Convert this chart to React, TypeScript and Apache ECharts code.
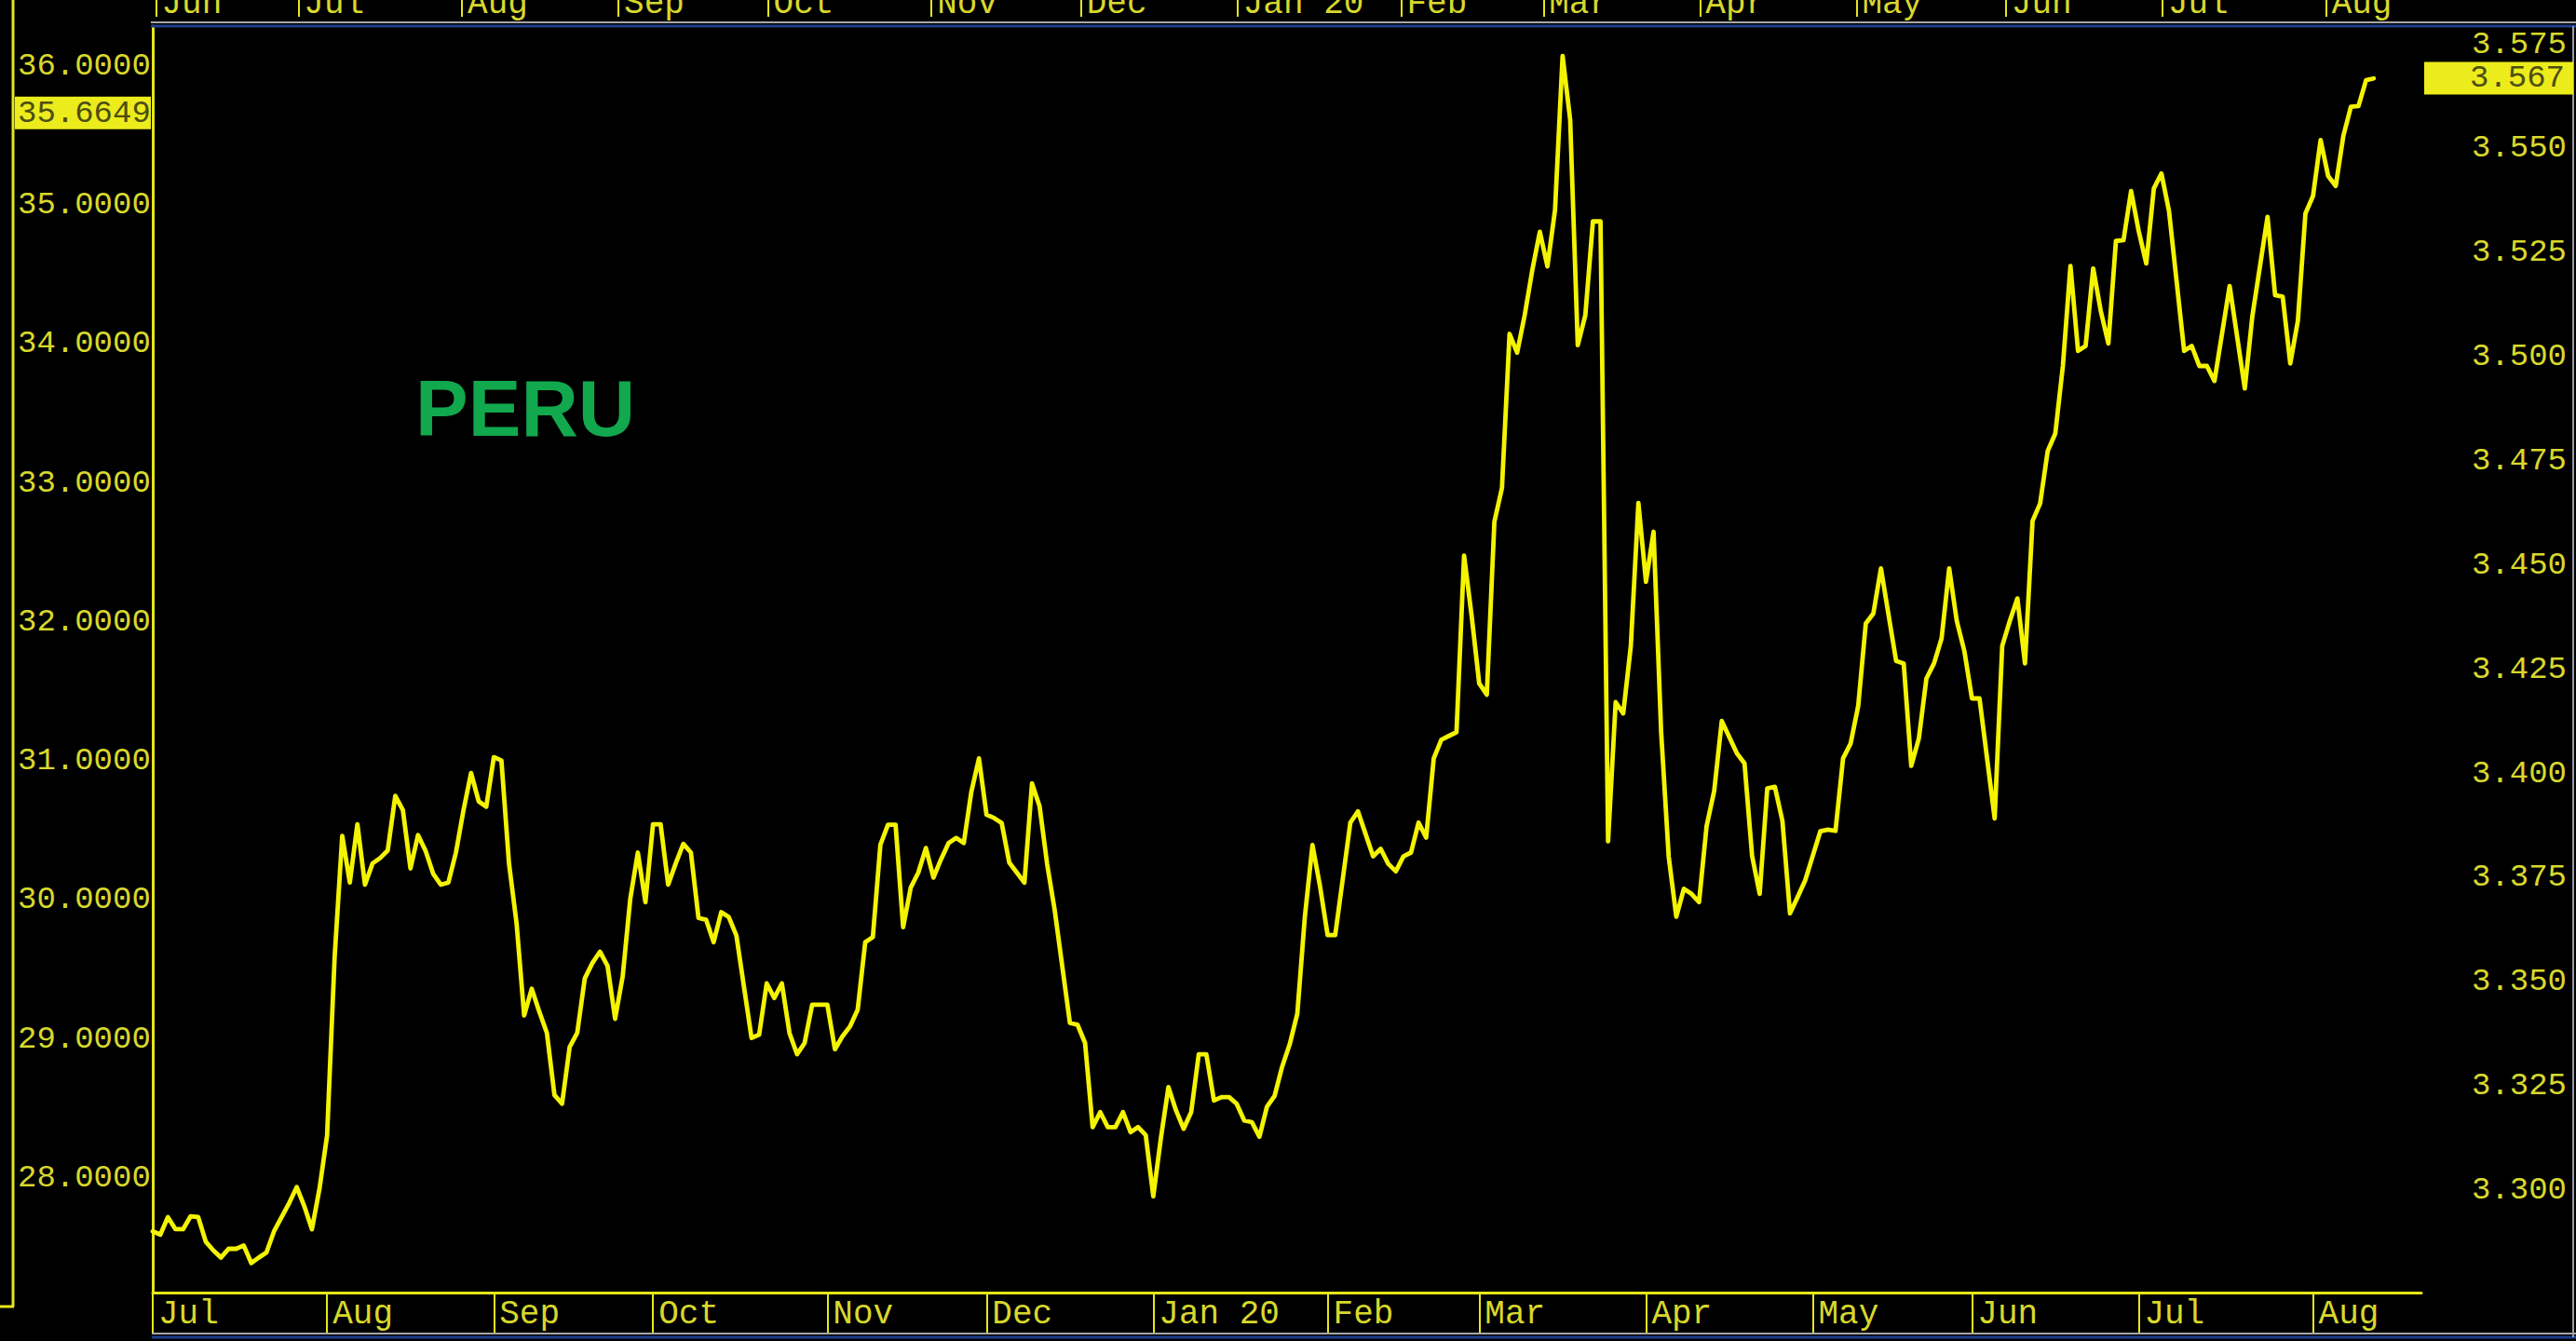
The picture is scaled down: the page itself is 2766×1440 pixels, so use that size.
import React, { useEffect, useRef } from "react";
import * as echarts from "echarts";

// USD/PEN daily close, keyed by business-day index counted from 1 Jul 2019
const jul19 = [[0, 3.2901], [1, 3.2893], [2, 3.2935], [3, 3.2906], [4, 3.2906], [5, 3.2937], [6, 3.2935], [7, 3.2876], [8, 3.2855], [9, 3.2838], [10, 3.2859], [11, 3.2859], [12, 3.2867], [13, 3.2825], [14, 3.2838], [15, 3.285], [16, 3.2901], [18, 3.2969], [19, 3.3007], [20, 3.2961], [21, 3.2906], [22, 3.3003]];
const aug19 = [[23, 3.3131], [24, 3.356], [25, 3.385], [26, 3.3738], [27, 3.3878], [28, 3.3733], [29, 3.3784], [30, 3.3797], [31, 3.3815], [32, 3.3946], [33, 3.3912], [34, 3.3772], [35, 3.3852], [36, 3.3814], [37, 3.3759], [38, 3.3733], [39, 3.3738], [40, 3.381], [41, 3.3912], [42, 3.4001], [43, 3.3933], [44, 3.392]];
const sep19 = [[45, 3.4039], [46, 3.4031], [47, 3.3784], [48, 3.364], [49, 3.3419], [50, 3.3483], [51, 3.3428], [52, 3.3377], [53, 3.3228], [54, 3.3207], [55, 3.3343], [56, 3.3377], [57, 3.3508], [58, 3.3545], [59, 3.3572], [60, 3.3538], [61, 3.3411], [62, 3.3513], [63, 3.3699], [64, 3.381], [65, 3.3691]];
const oct19 = [[66, 3.3878], [67, 3.3878], [68, 3.3733], [69, 3.3784], [70, 3.3831], [71, 3.381], [72, 3.3653], [73, 3.3649], [74, 3.3595], [75, 3.3667], [76, 3.3655], [77, 3.3611], [78, 3.3488], [79, 3.3365], [80, 3.3373], [81, 3.3496], [82, 3.3461], [83, 3.3496], [84, 3.3377], [85, 3.3326], [86, 3.3353], [87, 3.3445]];
const nov19 = [[89, 3.3445], [90, 3.3338], [91, 3.3369], [92, 3.3393], [93, 3.3433], [94, 3.3595], [95, 3.3607], [96, 3.3829], [97, 3.3877], [98, 3.3877], [99, 3.3631], [100, 3.3726], [101, 3.3762], [102, 3.3821], [103, 3.375], [104, 3.3794], [105, 3.3833], [106, 3.3845], [107, 3.3833], [108, 3.3956], [109, 3.4036]];
const dec19 = [[110, 3.3901], [111, 3.3893], [112, 3.3881], [113, 3.3786], [114, 3.3762], [115, 3.3738], [116, 3.3976], [117, 3.3921], [118, 3.3782], [119, 3.3671], [120, 3.3536], [121, 3.3401], [122, 3.3397], [123, 3.3353], [124, 3.3151], [125, 3.3187], [126, 3.3151], [127, 3.3151], [128, 3.3187], [129, 3.3139], [130, 3.3151], [131, 3.3132]];
const jan20 = [[132, 3.2985], [133, 3.3124], [134, 3.3247], [135, 3.3191], [136, 3.3147], [137, 3.3187], [138, 3.3326], [139, 3.3326], [140, 3.3215], [141, 3.3223], [142, 3.3223], [143, 3.3207], [144, 3.3167], [145, 3.3163], [146, 3.3128], [147, 3.32], [148, 3.3226], [149, 3.3296], [150, 3.335], [151, 3.3423], [152, 3.3657], [153, 3.3828], [154, 3.3729]];
const feb20 = [[155, 3.3612], [156, 3.3612], [157, 3.3747], [158, 3.3882], [159, 3.3909], [160, 3.3855], [161, 3.3801], [162, 3.3819], [163, 3.3783], [164, 3.3765], [165, 3.3801], [166, 3.381], [167, 3.3882], [168, 3.3846], [169, 3.4036], [170, 3.4081], [171, 3.409], [172, 3.4099], [173, 3.4523], [174, 3.4378]];
const mar20 = [[175, 3.4216], [176, 3.4189], [177, 3.4604], [178, 3.4685], [179, 3.5055], [180, 3.501], [181, 3.51], [182, 3.5208], [183, 3.53], [184, 3.5217], [185, 3.5352], [186, 3.5722], [187, 3.5569], [188, 3.5028], [189, 3.51], [190, 3.5325], [191, 3.5325], [192, 3.3837], [193, 3.4171], [194, 3.4144], [195, 3.4306], [196, 3.4649]];
const apr20 = [[197, 3.446], [198, 3.458], [199, 3.41], [200, 3.38], [201, 3.3656], [202, 3.3723], [203, 3.3711], [204, 3.3691], [205, 3.3874], [206, 3.3958], [207, 3.4126], [209, 3.4048], [210, 3.4024], [211, 3.3802], [212, 3.3711], [213, 3.3964], [214, 3.3968], [215, 3.3886], [216, 3.3664], [217, 3.3703], [218, 3.3743]];
const may20 = [[220, 3.3861], [221, 3.3865], [222, 3.3862], [223, 3.4036], [224, 3.4072], [225, 3.4162], [226, 3.436], [227, 3.4384], [228, 3.4492], [230, 3.427], [231, 3.4264], [232, 3.4018], [233, 3.4084], [234, 3.4228], [235, 3.4264], [236, 3.4324], [237, 3.4492], [238, 3.4366], [239, 3.4294]];
const jun20 = [[240, 3.418], [241, 3.418], [243, 3.3892], [244, 3.4306], [245, 3.4366], [246, 3.442], [247, 3.4264], [248, 3.4606], [249, 3.4648], [250, 3.4774], [251, 3.4816], [252, 3.4978], [253, 3.5218], [254, 3.5014], [255, 3.5026], [256, 3.5212], [257, 3.511], [258, 3.5032], [259, 3.5278], [260, 3.528], [261, 3.5398]];
const jul20 = [[262, 3.5302], [263, 3.5224], [264, 3.5404], [265, 3.544], [266, 3.535], [268, 3.5014], [269, 3.5026], [270, 3.4978], [271, 3.4978], [272, 3.4942], [274, 3.517], [276, 3.4924], [277, 3.5098], [279, 3.5336], [280, 3.5148], [281, 3.5144], [282, 3.4984], [283, 3.5086], [284, 3.5344]];
const aug20 = [[285, 3.5386], [286, 3.552], [287, 3.5434], [288, 3.541], [289, 3.553], [290, 3.56], [291, 3.5602], [292, 3.5664], [293, 3.5668]];

// bottom time axis: month starts (business-day index) and labels
const monthLabels = ["Jul", "Aug", "Sep", "Oct", "Nov", "Dec", "Jan 20", "Feb", "Mar", "Apr", "May", "Jun", "Jul", "Aug"];
const monthStartDay = [0, 23, 45, 66, 89, 110, 132, 155, 175, 197, 219, 240, 262, 285];
// the neighbouring panel's axis, cut off at the top of the screen (starts 3 Jun 2019)
const topMonthLabels = ["Jun", "Jul", "Aug", "Sep", "Oct", "Nov", "Dec", "Jan 20", "Feb", "Mar", "Apr", "May", "Jun", "Jul", "Aug"];
const topMonthStartDay = [0, 20, 43, 65, 86, 109, 130, 152, 175, 195, 217, 239, 260, 282, 305];

const rightTicks = [3.3, 3.325, 3.35, 3.375, 3.4, 3.425, 3.45, 3.475, 3.5, 3.525, 3.55, 3.575];
const leftTicks = [28, 29, 30, 31, 32, 33, 34, 35, 36];
const lastRate = 3.567;
const lastLeft = 35.6649;
const panelTitle = "PERU";

const AX = "#e6e61a";
const TXT = "#d8d82c";
const LINE = "#f4f400";
const MONO = "'Liberation Mono', 'DejaVu Sans Mono', monospace";

export default function App() {
  const ref = useRef<HTMLDivElement>(null);
  useEffect(() => {
    if (!ref.current) return;
    const chart = echarts.init(ref.current, undefined, { renderer: "svg" });
    const data = [...jul19, ...aug19, ...sep19, ...oct19, ...nov19, ...dec19, ...jan20, ...feb20, ...mar20, ...apr20, ...may20, ...jun20, ...jul20, ...aug20];

    const xLabel = (labels: string[], starts: number[]) => (v: number) => {
      const i = starts.indexOf(Math.round(v));
      return i >= 0 ? labels[i] : "";
    };

    chart.setOption({
      animation: false,
      backgroundColor: "#000000",
      grid: [
        { left: 164, right: 166, top: 28, bottom: 52, outerBoundsMode: "none", containLabel: false },
        { left: 164, right: 166, top: -300, height: 282, outerBoundsMode: "none", containLabel: false },
      ],
      xAxis: [
        {
          type: "value", gridIndex: 0, min: 0, max: 299.3, position: "bottom",
          axisLine: { show: true, onZero: false, lineStyle: { color: AX, width: 3 } },
          axisTick: { show: true, customValues: monthStartDay, length: 44, lineStyle: { color: AX, width: 2 } },
          axisLabel: {
            customValues: monthStartDay, formatter: xLabel(monthLabels, monthStartDay),
            align: "left", verticalAlign: "top", margin: 3, padding: [0, 0, 0, 6],
            color: TXT, fontFamily: MONO, fontSize: 36, lineHeight: 40,
          },
          splitLine: { show: false },
        },
        {
          type: "value", gridIndex: 1, min: -0.46, max: 318.4, position: "bottom",
          axisLine: { show: true, onZero: false, lineStyle: { color: AX, width: 2 } },
          axisTick: { show: true, customValues: topMonthStartDay, length: 36, lineStyle: { color: AX, width: 2 } },
          axisLabel: {
            customValues: topMonthStartDay, formatter: xLabel(topMonthLabels, topMonthStartDay),
            align: "left", verticalAlign: "top", margin: 2, padding: [0, 0, 0, 6],
            color: TXT, fontFamily: MONO, fontSize: 36, lineHeight: 40,
          },
          splitLine: { show: false },
        },
      ],
      yAxis: [
        {
          type: "value", gridIndex: 0, position: "right", min: 3.27539, max: 3.57938,
          axisLine: { show: true, lineStyle: { color: AX, width: 3 } },
          axisTick: { show: false },
          axisLabel: {
            customValues: rightTicks, formatter: (v: number) => v.toFixed(3),
            align: "right", margin: 156, color: TXT, fontFamily: MONO, fontSize: 34,
          },
          splitLine: { show: false },
        },
        {
          type: "value", gridIndex: 0, position: "left", offset: 150, min: 27.177, max: 36.2855,
          axisLine: { show: false },
          axisTick: { show: false },
          axisLabel: {
            inside: true, customValues: leftTicks, formatter: (v: number) => v.toFixed(4),
            align: "left", margin: 5, color: TXT, fontFamily: MONO, fontSize: 34,
          },
          splitLine: { show: false },
        },
        { type: "value", gridIndex: 1, show: false, min: 0, max: 1 },
      ],
      series: [
        {
          type: "line", xAxisIndex: 0, yAxisIndex: 0, data,
          showSymbol: false, symbol: "none",
          lineStyle: { color: LINE, width: 4.8, join: "round", cap: "round" },
        },
      ],
    });

    const yR = chart.convertToPixel({ yAxisIndex: 0 }, lastRate) as number;
    const yL = chart.convertToPixel({ yAxisIndex: 1 }, lastLeft) as number;

    chart.setOption({
      graphic: [
        { type: "line", z: 50, shape: { x1: 162, y1: 24, x2: 2766, y2: 24 }, style: { stroke: "#a8a8a8", lineWidth: 2 } },
        { type: "line", z: 50, shape: { x1: 162, y1: 28, x2: 2766, y2: 28 }, style: { stroke: "#1d3f8c", lineWidth: 3 } },
        { type: "line", z: 50, shape: { x1: 163, y1: 1432, x2: 2766, y2: 1432 }, style: { stroke: "#a8a8a8", lineWidth: 2 } },
        { type: "line", z: 50, shape: { x1: 163, y1: 1436, x2: 2766, y2: 1436 }, style: { stroke: "#1d3f8c", lineWidth: 3 } },
        { type: "line", z: 50, shape: { x1: 2763, y1: 28, x2: 2763, y2: 1436 }, style: { stroke: "#9a9aa8", lineWidth: 2 } },
        { type: "line", z: 50, shape: { x1: 14, y1: 0, x2: 14, y2: 1403 }, style: { stroke: AX, lineWidth: 3 } },
        { type: "line", z: 50, shape: { x1: 0, y1: 1403, x2: 15, y2: 1403 }, style: { stroke: AX, lineWidth: 3 } },
        {
          type: "text", z: 60, x: 446, y: 438,
          style: { text: panelTitle, fill: "#12a84e", font: "bold 85px 'Liberation Sans', Arial, sans-serif", align: "left", verticalAlign: "middle" },
        },
        { type: "rect", z: 60, shape: { x: 2603, y: yR - 17, width: 160, height: 35 }, style: { fill: "#ecec1c" } },
        {
          type: "text", z: 61, x: 2754, y: yR + 1,
          style: { text: lastRate.toFixed(3), fill: "#4e4e10", font: `34px ${MONO}`, align: "right", verticalAlign: "middle" },
        },
        { type: "rect", z: 60, shape: { x: 16, y: yL - 17, width: 146, height: 35 }, style: { fill: "#ecec1c" } },
        {
          type: "text", z: 61, x: 19, y: yL + 1,
          style: { text: lastLeft.toFixed(4), fill: "#4e4e10", font: `34px ${MONO}`, align: "left", verticalAlign: "middle" },
        },
      ],
    });

    return () => chart.dispose();
  }, []);

  return (
    <div
      ref={ref}
      style={{ position: "fixed", left: 0, top: 0, width: "2766px", height: "1440px", background: "#000" }}
    />
  );
}
